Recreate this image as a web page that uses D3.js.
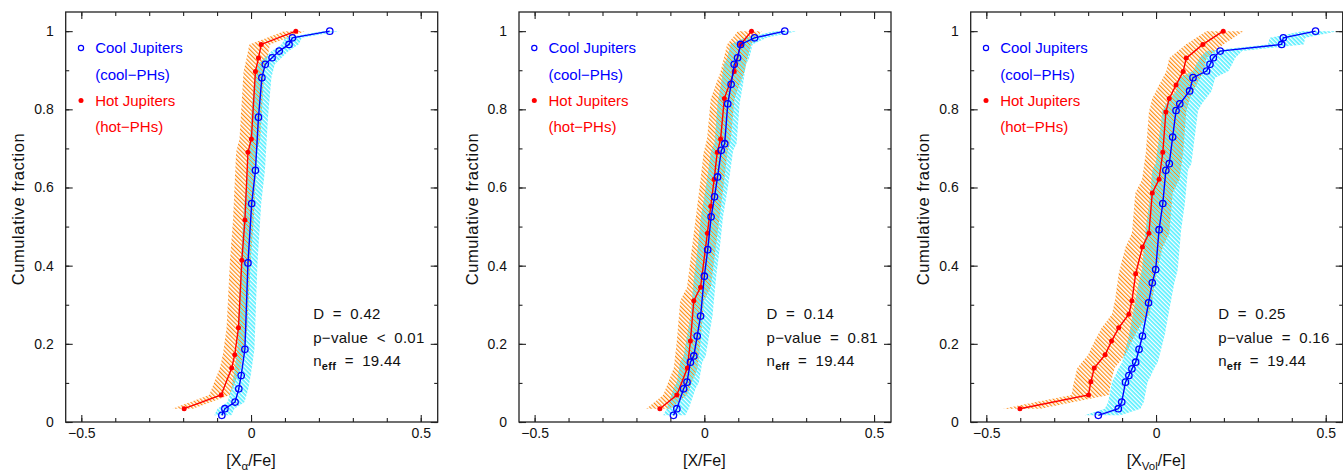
<!DOCTYPE html>
<html><head><meta charset="utf-8">
<script src="https://cdn.jsdelivr.net/npm/d3@7"></script>
<style>
body{margin:0;background:#fff;}
svg{display:block;}
text{font-family:"Liberation Sans",Arial,Helvetica,sans-serif;}
</style>
</head><body>
<svg id="c" width="1343" height="471"></svg>
<script>
// ---------------- data ----------------
const xMajorTicks = [-0.5, 0, 0.5];
const xMajorLabels = ["\u22120.5", "0", "0.5"];
const yMajorTicks = [0, 0.2, 0.4, 0.6, 0.8, 1];
const yMajorLabels = ["0", "0.2", "0.4", "0.6", "0.8", "1"];
const legendLabels = ["Cool Jupiters", "(cool\u2212PHs)", "Hot Jupiters", "(hot\u2212PHs)"];
const yAxisTitle = "Cumulative fraction";
const xTitleSub = ["\u03b1", "", "Vol"];
const statD = ["0.42", "0.14", "0.25"];
const statP = ["< 0.01", "= 0.81", "= 0.16"];
const statNeff = ["19.44", "19.44", "19.44"];

// panel 1 : [X_alpha/Fe]
const hotX1 = [-0.197, -0.088, -0.057, -0.048, -0.037, -0.027, -0.018, -0.009, 0.001, 0.013, 0.022, 0.030, 0.132];
const hotY1 = [0.034, 0.069, 0.138, 0.172, 0.241, 0.414, 0.517, 0.690, 0.724, 0.897, 0.931, 0.966, 1.0];
const coolX1 = [-0.086, -0.077, -0.047, -0.036, -0.029, -0.018, -0.009, 0.002, 0.013, 0.022, 0.032, 0.042, 0.062, 0.083, 0.112, 0.122, 0.232];
const coolY1 = [0.017, 0.034, 0.051, 0.085, 0.119, 0.186, 0.407, 0.559, 0.644, 0.780, 0.881, 0.915, 0.932, 0.949, 0.966, 0.983, 1.0];

// panel 2 : [X/Fe]
const hotX2 = [-0.131, -0.081, -0.050, -0.041, -0.031, -0.011, 0.009, 0.019, 0.029, 0.038, 0.048, 0.059, 0.088, 0.107, 0.139];
const hotY2 = [0.034, 0.069, 0.138, 0.207, 0.310, 0.345, 0.483, 0.552, 0.621, 0.690, 0.724, 0.828, 0.897, 0.966, 1.0];
const coolX2 = [-0.091, -0.081, -0.061, -0.051, -0.041, -0.031, -0.021, -0.011, 0.000, 0.010, 0.020, 0.030, 0.039, 0.050, 0.060, 0.069, 0.079, 0.088, 0.098, 0.107, 0.148, 0.237];
const coolY2 = [0.017, 0.034, 0.085, 0.102, 0.153, 0.169, 0.220, 0.271, 0.373, 0.441, 0.525, 0.576, 0.627, 0.695, 0.712, 0.814, 0.864, 0.915, 0.932, 0.966, 0.983, 1.0];

// panel 3 : [X_Vol/Fe]
const hotX3 = [-0.401, -0.199, -0.192, -0.182, -0.150, -0.131, -0.110, -0.080, -0.071, -0.060, -0.040, -0.021, -0.011, 0.009, 0.020, 0.029, 0.039, 0.059, 0.080, 0.089, 0.138, 0.198];
const hotY3 = [0.034, 0.069, 0.103, 0.138, 0.172, 0.207, 0.241, 0.276, 0.310, 0.379, 0.448, 0.483, 0.586, 0.621, 0.690, 0.793, 0.828, 0.862, 0.897, 0.931, 0.966, 1.0];
const coolX3 = [-0.170, -0.111, -0.101, -0.090, -0.080, -0.071, -0.060, -0.050, -0.040, -0.022, -0.011, -0.001, 0.009, 0.020, 0.029, 0.039, 0.049, 0.059, 0.070, 0.099, 0.109, 0.149, 0.159, 0.169, 0.189, 0.370, 0.375, 0.470];
const coolY3 = [0.017, 0.034, 0.051, 0.102, 0.119, 0.136, 0.153, 0.186, 0.220, 0.305, 0.356, 0.390, 0.492, 0.559, 0.644, 0.661, 0.729, 0.797, 0.814, 0.847, 0.881, 0.898, 0.915, 0.932, 0.949, 0.966, 0.983, 1.0];

// confidence band half-widths (left, right) in x units, per panel
const hotBandLo = [0.035, 0.040, 0.050];
const hotBandHi = [0.026, 0.030, 0.060];
const coolBandLo = [0.022, 0.030, 0.040];
const coolBandHi = [0.028, 0.035, 0.065];

// ---------------- drawing ----------------
const hotXs = [hotX1, hotX2, hotX3], hotYs = [hotY1, hotY2, hotY3];
const coolXs = [coolX1, coolX2, coolX3], coolYs = [coolY1, coolY2, coolY3];

const svg = d3.select("#c");
const panelLeft = [65.7, 519, 970.7];
const pw = 372, plotTop = 12, plotBottom = 422;
const frameColor = "#222";
const cOrange = "#ff8a10", cCyan = "#10e8ff", cRed = "#ff0000", cBlue = "#0000ff";

const defs = svg.append("defs");
function hatch(id, color, angle, offset) {
  const p = defs.append("pattern").attr("id", id).attr("patternUnits", "userSpaceOnUse")
    .attr("width", 3).attr("height", 3).attr("patternTransform", `rotate(${angle})`);
  p.append("rect").attr("x", offset).attr("y", 0).attr("width", 1.2).attr("height", 3).attr("fill", color);
}
hatch("hOrange", cOrange, -45, 0);
hatch("hCyan", cCyan, -45, 1.5);

const y = d3.scaleLinear().domain([0, 1.049]).range([plotBottom, plotTop]);
const xMinor = d3.range(-5, 6).map(d => d / 10);
const yMinor = d3.range(0, 11).map(d => d / 10);

for (let p = 0; p < 3; p++) {
  const L = panelLeft[p];
  const x = d3.scaleLinear().domain([-0.546, 0.55]).range([L, L + pw]);
  const g = svg.append("g");

  const hot = hotXs[p].map((v, i) => ({x: v, y: hotYs[p][i]}));
  const cool = coolXs[p].map((v, i) => ({x: v, y: coolYs[p][i]}));

  const clipId = "clip" + p;
  defs.append("clipPath").attr("id", clipId).append("rect")
    .attr("x", L).attr("y", plotTop).attr("width", pw).attr("height", plotBottom - plotTop);
  const plot = g.append("g").attr("clip-path", `url(#${clipId})`);

  const areaHot = d3.area().y(d => y(d.y)).x0(d => x(d.x - hotBandLo[p])).x1(d => x(d.x + hotBandHi[p]));
  const areaCool = d3.area().y(d => y(d.y)).x0(d => x(d.x - coolBandLo[p])).x1(d => x(d.x + coolBandHi[p]));
  plot.append("path").datum(hot).attr("d", areaHot).attr("fill", "url(#hOrange)");
  plot.append("path").datum(cool).attr("d", areaCool).attr("fill", "url(#hCyan)");

  const line = d3.line().x(d => x(d.x)).y(d => y(d.y));
  plot.append("path").datum(hot).attr("d", line).attr("fill", "none").attr("stroke", cRed).attr("stroke-width", 1.4);
  plot.selectAll(".hp").data(hot).join("circle").attr("cx", d => x(d.x)).attr("cy", d => y(d.y))
    .attr("r", 2.5).attr("fill", cRed);
  plot.append("path").datum(cool).attr("d", line).attr("fill", "none").attr("stroke", cBlue).attr("stroke-width", 1.4);
  plot.selectAll(".cp").data(cool).join("circle").attr("cx", d => x(d.x)).attr("cy", d => y(d.y))
    .attr("r", 3.2).attr("fill", "none").attr("stroke", cBlue).attr("stroke-width", 1.3);

  // axes with inward ticks
  const axStyle = sel => {
    sel.select(".domain").remove();
    sel.selectAll("line").attr("stroke", frameColor).attr("stroke-width", 1.1);
    sel.selectAll("text").attr("fill", "#111").style("font-size", "14px")
      .style("font-family", '"Liberation Sans",Arial,sans-serif');
  };
  g.append("g").attr("transform", `translate(0,${plotBottom})`)
    .call(d3.axisBottom(x).tickValues(xMinor).tickSize(-4).tickFormat("")).call(axStyle);
  g.append("g").attr("transform", `translate(0,${plotBottom})`)
    .call(d3.axisBottom(x).tickValues(xMajorTicks).tickSize(-7).tickPadding(6)
      .tickFormat((d, i) => xMajorLabels[i])).call(axStyle);
  g.append("g").attr("transform", `translate(0,${plotTop})`)
    .call(d3.axisTop(x).tickValues(xMinor).tickSize(-4).tickFormat("")).call(axStyle);
  g.append("g").attr("transform", `translate(0,${plotTop})`)
    .call(d3.axisTop(x).tickValues(xMajorTicks).tickSize(-7).tickFormat("")).call(axStyle);
  g.append("g").attr("transform", `translate(${L},0)`)
    .call(d3.axisLeft(y).tickValues(yMinor).tickSize(-3.5).tickFormat("")).call(axStyle);
  g.append("g").attr("transform", `translate(${L},0)`)
    .call(d3.axisLeft(y).tickValues(yMajorTicks).tickSize(-7).tickPadding(12)
      .tickFormat((d, i) => yMajorLabels[i])).call(axStyle);
  g.append("g").attr("transform", `translate(${L + pw},0)`)
    .call(d3.axisRight(y).tickValues(yMinor).tickSize(-3.5).tickFormat("")).call(axStyle);
  g.append("g").attr("transform", `translate(${L + pw},0)`)
    .call(d3.axisRight(y).tickValues(yMajorTicks).tickSize(-7).tickFormat("")).call(axStyle);

  g.append("rect").attr("x", L).attr("y", plotTop).attr("width", pw).attr("height", plotBottom - plotTop)
    .attr("fill", "none").attr("stroke", frameColor).attr("stroke-width", 1.3);

  // legend
  const lg = g.append("g").style("font-size", "15px");
  lg.append("circle").attr("cx", L + 15.3).attr("cy", 48).attr("r", 2.6).attr("fill", "none")
    .attr("stroke", cBlue).attr("stroke-width", 1.2);
  lg.append("circle").attr("cx", L + 15.3).attr("cy", 100.5).attr("r", 2.5).attr("fill", cRed);
  const ly = [48, 74.5, 100.5, 127];
  legendLabels.forEach((t, i) => {
    lg.append("text").attr("x", L + 29.5).attr("y", ly[i]).attr("dy", "0.35em")
      .attr("fill", i < 2 ? cBlue : cRed).text(t);
  });

  // statistics
  const sx = L + 247.5;
  const st = g.append("g").style("font-size", "15px").style("word-spacing", "4px")
    .style("letter-spacing", "0.3px").attr("fill", "#111");
  st.append("text").attr("x", sx).attr("y", 314).attr("dy", "0.35em").text("D = " + statD[p]);
  st.append("text").attr("x", sx).attr("y", 338).attr("dy", "0.35em").text("p\u2212value " + statP[p]);
  const nt = st.append("text").attr("x", sx).attr("y", 361).attr("dy", "0.35em");
  nt.append("tspan").text("n");
  nt.append("tspan").attr("dy", "4").style("font-size", "11px").style("font-weight", "bold").text("eff");
  nt.append("tspan").attr("dy", "-4").text(" = " + statNeff[p]);

  // x title
  const xt = g.append("text").attr("x", x(0)).attr("y", 466).attr("text-anchor", "middle")
    .style("font-size", "16px").attr("fill", "#111");
  xt.append("tspan").text("[X");
  if (xTitleSub[p]) {
    xt.append("tspan").attr("dy", "4").style("font-size", "11.5px").text(xTitleSub[p]);
    xt.append("tspan").attr("dy", "-4").text("/Fe]");
  } else {
    xt.append("tspan").text("/Fe]");
  }

  // y title
  g.append("text").attr("transform", `translate(${L - 47},${209}) rotate(-90)`)
    .attr("text-anchor", "middle").attr("dy", "0.35em").style("font-size", "16.5px")
    .style("letter-spacing", "0.6px").attr("fill", "#111").text(yAxisTitle);
}
</script>
</body></html>
